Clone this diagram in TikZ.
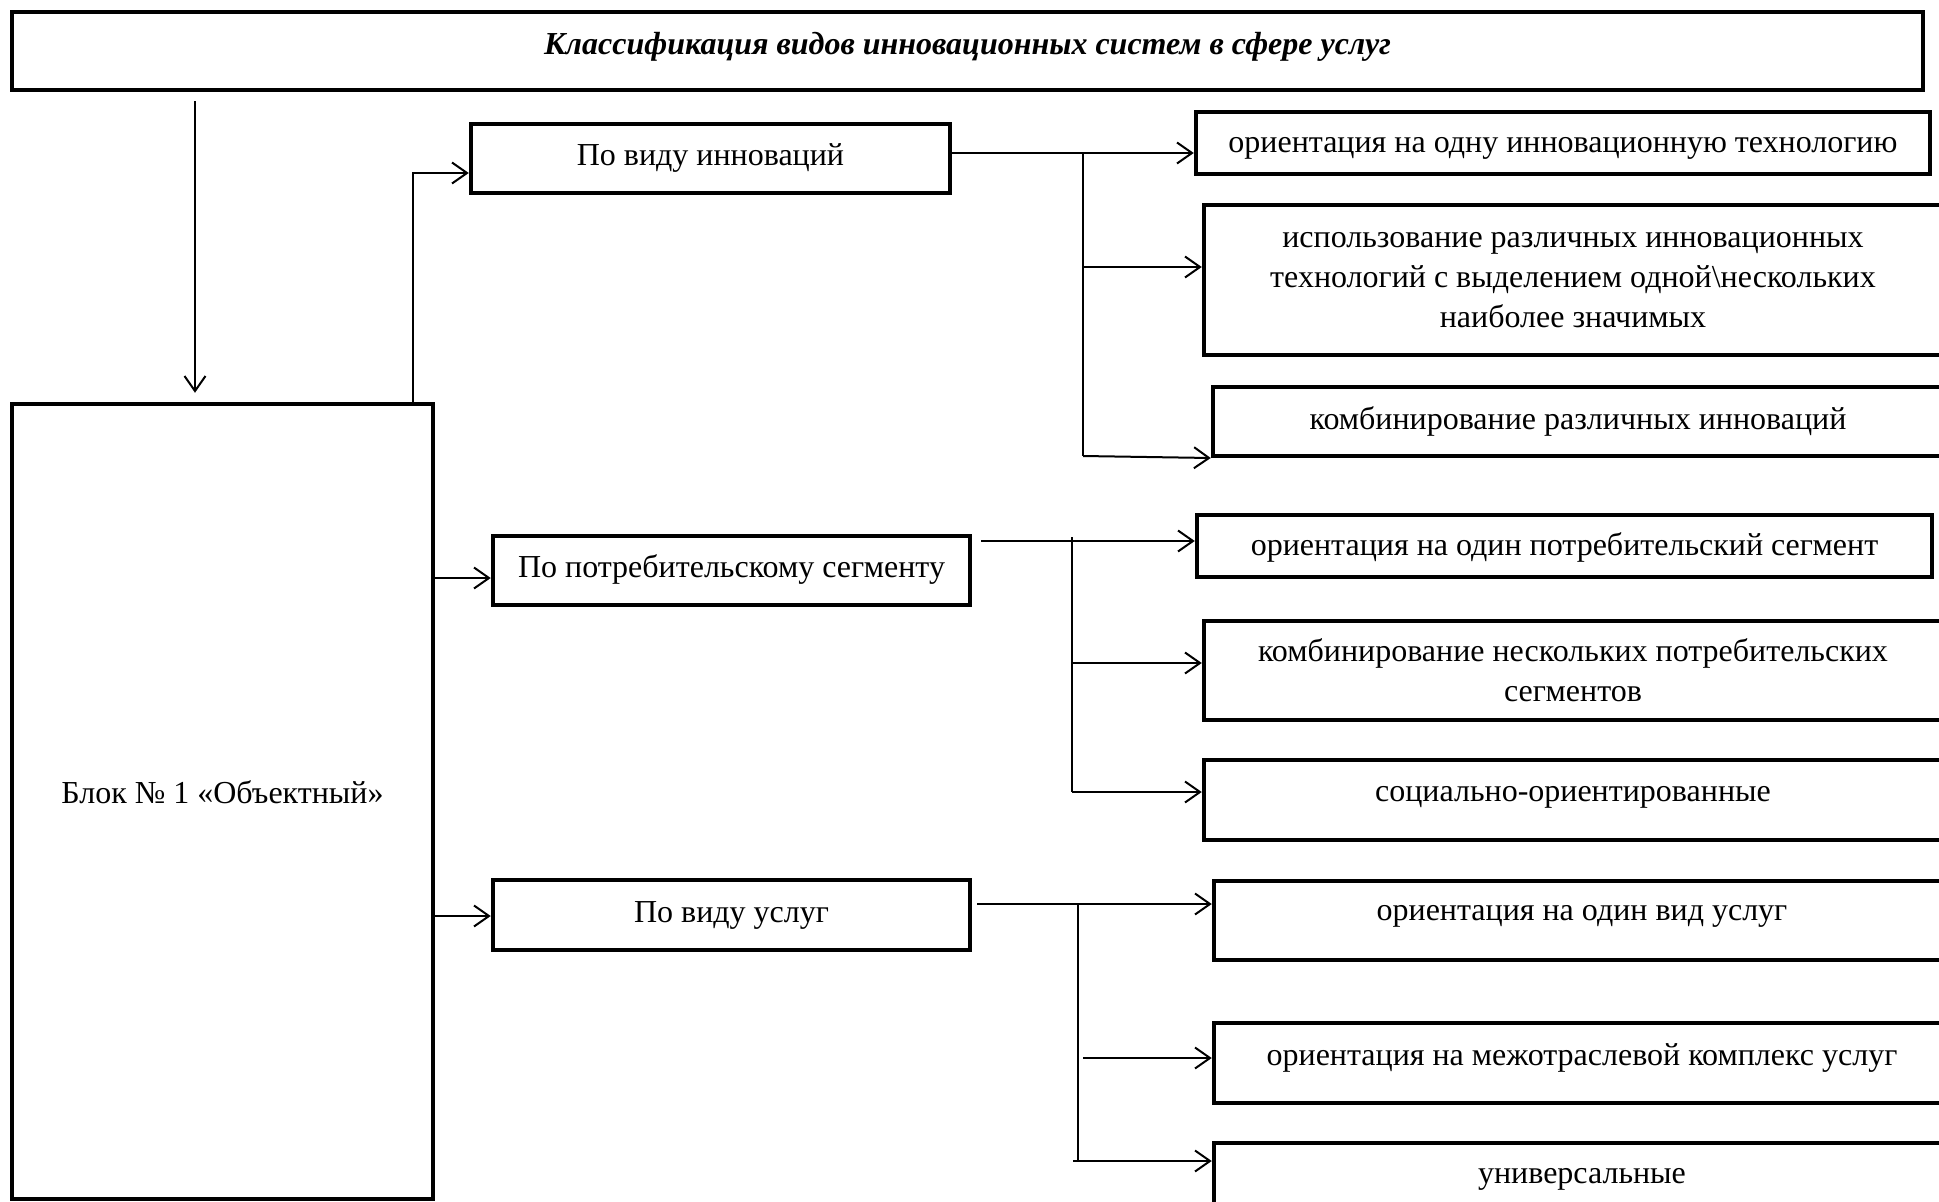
\documentclass[tikz,border=0pt]{standalone}
\usepackage{fontspec}
\setmainfont{Liberation Serif}
\usetikzlibrary{arrows.meta}
\newcommand\rbx[2]{\raisebox{#1}[\height][\depth]{#2}}
\begin{document}
\begin{tikzpicture}[x=1pt,y=-1pt,
  box/.style={draw, line width=4.5pt, inner sep=0pt, align=center, font=\fontsize{32pt}{40pt}\selectfont},
  conn/.style={line width=2pt},
  arr/.style={conn, -{Straight Barb[length=15pt,width=21pt,line width=2pt]}}]
\useasboundingbox (0,0) rectangle (1939,1202);
\clip (0,0) rectangle (1939,1202);
\fill[white] (0,0) rectangle (1939,1202);

\node[box, minimum width=1911pt, minimum height=78pt, font=\fontsize{32pt}{40pt}\selectfont\bfseries\itshape] (title) at (967.5,51) {\rbx{4pt}{Классификация видов инновационных систем в сфере услуг}};
\node[box, minimum width=421pt, minimum height=795pt] (blok) at (222.5,801.5) {\rbx{9pt}{Блок № 1 «Объектный»}};

\node[box, minimum width=479pt, minimum height=69pt] (inn) at (710.5,158.5) {\rbx{1pt}{По виду инноваций}};
\node[box, minimum width=477pt, minimum height=69pt] (potr) at (731.5,570.5) {\rbx{1pt}{По потребительскому сегменту}};
\node[box, minimum width=477pt, minimum height=70pt] (usl) at (731.5,915) {По виду услуг};

\node[box, minimum width=734pt, minimum height=62pt] (b1) at (1563,143) {\rbx{-5pt}{ориентация на одну инновационную технологию}};
\node[box, minimum width=738pt, minimum height=150pt] (b2) at (1573,280) {использование различных инновационных\\технологий с выделением одной\textbackslash нескольких\\наиболее значимых};
\node[box, minimum width=730pt, minimum height=69pt] (b3) at (1578,421.5) {комбинирование различных инноваций};

\node[box, minimum width=735pt, minimum height=62pt] (b4) at (1564.5,546) {\rbx{-1pt}{ориентация на один потребительский сегмент}};
\node[box, minimum width=738pt, minimum height=99pt] (b5) at (1573,670.5) {комбинирование нескольких потребительских\\сегментов};
\node[box, minimum width=738pt, minimum height=80pt] (b6) at (1573,800) {\rbx{3pt}{социально-ориентированные}};

\node[box, minimum width=736pt, minimum height=79pt] (b7) at (1582,920.5) {\rbx{4pt}{ориентация на один вид услуг}};
\node[box, minimum width=736pt, minimum height=80pt] (b8) at (1582,1063) {\rbx{5pt}{ориентация на межотраслевой комплекс услуг}};
\node[box, minimum width=736pt, minimum height=72pt] (b9) at (1582,1179) {универсальные};

% main connectors
\coordinate (t0) at (195,101);
\draw[arr, shorten >=9pt] (t0) -- (t0 |- blok.north);
\draw[arr] (blok.north -| 413,0) |- (inn.west |- 0,173);
\draw[arr] (blok.east |- 0,578) -- (potr.west |- 0,578);
\draw[arr] (blok.east |- 0,916) -- (usl.west |- 0,916);

% group 1
\coordinate (j1) at (1083,153);
\coordinate (j1b) at (1083,267);
\coordinate (j1c) at (1083,456);
\draw[arr] (inn.east |- j1) -- (b1.west |- j1);
\draw[conn] (j1) -- (j1c);
\draw[arr] (j1b) -- (b2.west |- j1b);
\draw[arr] (j1c) -- (b3.west |- 0,458);

% group 2
\coordinate (j2s) at (981,541);
\coordinate (j2t) at (1072,537);
\coordinate (j2b) at (1072,663);
\coordinate (j2c) at (1072,792);
\draw[arr] (j2s) -- (b4.west |- j2s);
\draw[conn] (j2t) -- (j2c);
\draw[arr] (j2b) -- (b5.west |- j2b);
\draw[arr] (j2c) -- (b6.west |- j2c);

% group 3
\coordinate (j3s) at (977,904);
\coordinate (j3t) at (1078,904);
\coordinate (j3c) at (1078,1161);
\coordinate (j3b) at (1083,1058);
\coordinate (j3d) at (1073,1161);
\draw[arr] (j3s) -- (b7.west |- j3s);
\draw[conn] (j3t) -- (j3c);
\draw[arr] (j3b) -- (b8.west |- j3b);
\draw[arr] (j3d) -- (b9.west |- j3d);
\end{tikzpicture}
\end{document}
